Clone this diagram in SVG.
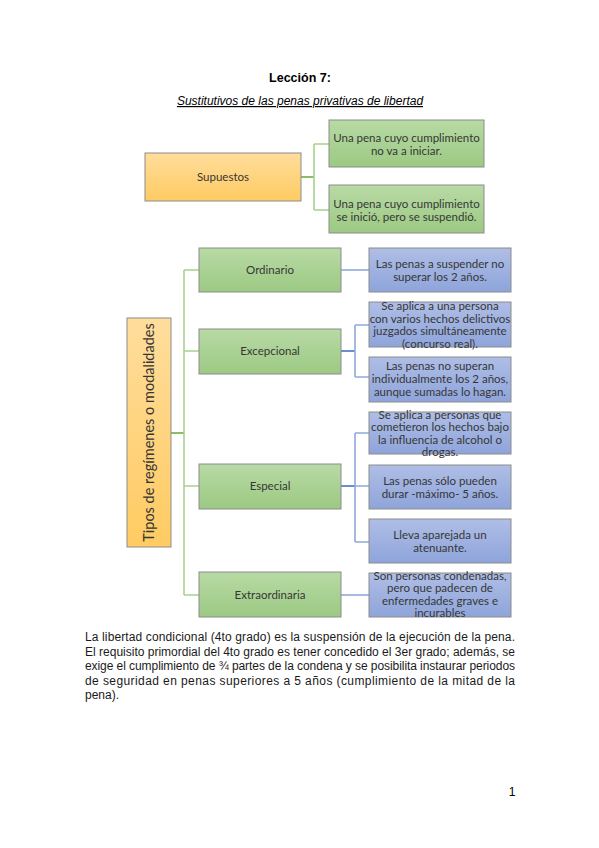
<svg xmlns="http://www.w3.org/2000/svg" width="599" height="848" viewBox="0 0 599 848">
<defs>
<linearGradient id="gOrange" x1="0" y1="0" x2="0" y2="1"><stop offset="0" stop-color="#FFDD9C"/><stop offset="1" stop-color="#FFCB62"/></linearGradient>
<linearGradient id="gGreen" x1="0" y1="0" x2="0" y2="1"><stop offset="0" stop-color="#B8DAA5"/><stop offset="1" stop-color="#9CC983"/></linearGradient>
<linearGradient id="gBlue" x1="0" y1="0" x2="0" y2="1"><stop offset="0" stop-color="#AFBEE6"/><stop offset="1" stop-color="#8EA4DA"/></linearGradient>
<style>
.bo{fill:url(#gOrange);stroke:#8C8C8C;stroke-width:1}
.bg{fill:url(#gGreen);stroke:#8C8C8C;stroke-width:1}
.bb{fill:url(#gBlue);stroke:#8C8C8C;stroke-width:1}
.t{font-family:Lato,"Open Sans","DejaVu Sans",sans-serif;font-size:11.5px;fill:#363636;text-anchor:middle}
.body{font-family:"Liberation Sans",Arial,sans-serif;font-size:12px;fill:#1a1a1a}
.cg1{stroke:#70AD47;stroke-width:1.6;fill:none}
.cg2{stroke:#A9D18E;stroke-width:1.6;fill:none}
.cb1{stroke:#4472C4;stroke-width:1.6;fill:none}
.cb2{stroke:#8FAADC;stroke-width:1.6;fill:none}
</style>
</defs>
<rect width="599" height="848" fill="#ffffff"/>
<text x="300" y="82" font-family="'Liberation Sans',Arial,sans-serif" font-size="12.5" font-weight="bold" text-anchor="middle" fill="#000">Lección 7:</text>
<text x="300" y="105" font-family="'Liberation Sans',Arial,sans-serif" font-size="12" font-style="italic" text-decoration="underline" text-anchor="middle" fill="#000">Sustitutivos de las penas privativas de libertad</text>

<g id="connectors">
<path class="cg1" d="M301 177H314"/>
<path class="cg2" d="M314 144V210M314 144H329M314 210H329"/>
<path class="cg1" d="M171 433H184"/>
<path class="cg2" d="M184 270V595M184 270H199M184 351H199M184 486H199M184 595H199"/>
<path class="cb2" d="M341 270H369"/>
<path class="cb1" d="M341 351H355"/>
<path class="cb2" d="M355 325V377M355 325H369M355 377H369"/>
<path class="cb1" d="M341 486H355"/>
<path class="cb2" d="M355 433V542M355 433H369M355 486H369M355 542H369"/>
<path class="cb2" d="M341 595H369"/>
</g>

<g id="supuestos"><rect class="bo" x="145" y="153" width="156" height="48"/><text class="t" x="223" y="181">Supuestos</text></g>
<g id="sup1"><rect class="bg" x="329" y="120" width="155" height="47"/><text class="t" x="406.5" y="142">Una pena cuyo cumplimiento</text><text class="t" x="406.5" y="155">no va a iniciar.</text></g>
<g id="sup2"><rect class="bg" x="329" y="185" width="155" height="48"/><text class="t" x="406.5" y="208">Una pena cuyo cumplimiento</text><text class="t" x="406.5" y="221">se inició, pero se suspendió.</text></g>

<g id="tipos"><rect class="bo" x="127" y="318" width="44" height="229"/><text class="t" transform="translate(154,432.5) rotate(-90)" x="0" y="0" style="font-size:14.5px">Tipos de regímenes o modalidades</text></g>

<g id="ordinario"><rect class="bg" x="199" y="248" width="142" height="44"/><text class="t" x="270" y="274">Ordinario</text></g>
<g id="excepcional"><rect class="bg" x="199" y="329" width="142" height="45"/><text class="t" x="270" y="355">Excepcional</text></g>
<g id="especial"><rect class="bg" x="199" y="464" width="142" height="45"/><text class="t" x="270" y="490">Especial</text></g>
<g id="extraordinaria"><rect class="bg" x="199" y="572" width="142" height="45"/><text class="t" x="270" y="599">Extraordinaria</text></g>

<g id="b1"><rect class="bb" x="369" y="248" width="142" height="44"/><text class="t" x="440" y="268">Las penas a suspender no</text><text class="t" x="440" y="281">superar los 2 años.</text></g>
<g id="b2"><rect class="bb" x="369" y="302" width="142" height="45"/><text class="t" x="440" y="310">Se aplica a una persona</text><text class="t" x="440" y="322.5">con varios hechos delictivos</text><text class="t" x="440" y="335">juzgados simultáneamente</text><text class="t" x="440" y="347.5">(concurso real).</text></g>
<g id="b3"><rect class="bb" x="369" y="357" width="142" height="45"/><text class="t" x="440" y="370">Las penas no superan</text><text class="t" x="440" y="383">individualmente los 2 años,</text><text class="t" x="440" y="396">aunque sumadas lo hagan.</text></g>
<g id="b4"><rect class="bb" x="369" y="412" width="142" height="42"/><text class="t" x="440" y="419">Se aplica a personas que</text><text class="t" x="440" y="431.3">cometieron los hechos bajo</text><text class="t" x="440" y="443.6">la influencia de alcohol o</text><text class="t" x="440" y="456">drogas.</text></g>
<g id="b5"><rect class="bb" x="369" y="465" width="142" height="44"/><text class="t" x="440" y="485">Las penas sólo pueden</text><text class="t" x="440" y="497.5">durar -máximo- 5 años.</text></g>
<g id="b6"><rect class="bb" x="369" y="519" width="142" height="44"/><text class="t" x="440" y="539">Lleva aparejada un</text><text class="t" x="440" y="551.5">atenuante.</text></g>
<g id="b7"><rect class="bb" x="369" y="573" width="142" height="44"/><text class="t" x="440" y="580">Son personas condenadas,</text><text class="t" x="440" y="592.3">pero que padecen de</text><text class="t" x="440" y="604.6">enfermedades graves e</text><text class="t" x="440" y="617">incurables</text></g>

<g id="paragraph">
<text class="body" x="85" y="641" textLength="430" lengthAdjust="spacing">La libertad condicional (4to grado) es la suspensión de la ejecución de la pena.</text>
<text class="body" x="85" y="655.5" textLength="430" lengthAdjust="spacing">El requisito primordial del 4to grado es tener concedido el 3er grado; además, se</text>
<text class="body" x="85" y="670" textLength="430" lengthAdjust="spacing">exige el cumplimiento de ¾ partes de la condena y se posibilita instaurar periodos</text>
<text class="body" x="85" y="684.5" textLength="430" lengthAdjust="spacing">de seguridad en penas superiores a 5 años (cumplimiento de la mitad de la</text>
<text class="body" x="85" y="699">pena).</text>
</g>
<text x="512" y="796" font-family="'Liberation Sans',Arial,sans-serif" font-size="12" text-anchor="middle" fill="#000">1</text>
</svg>
